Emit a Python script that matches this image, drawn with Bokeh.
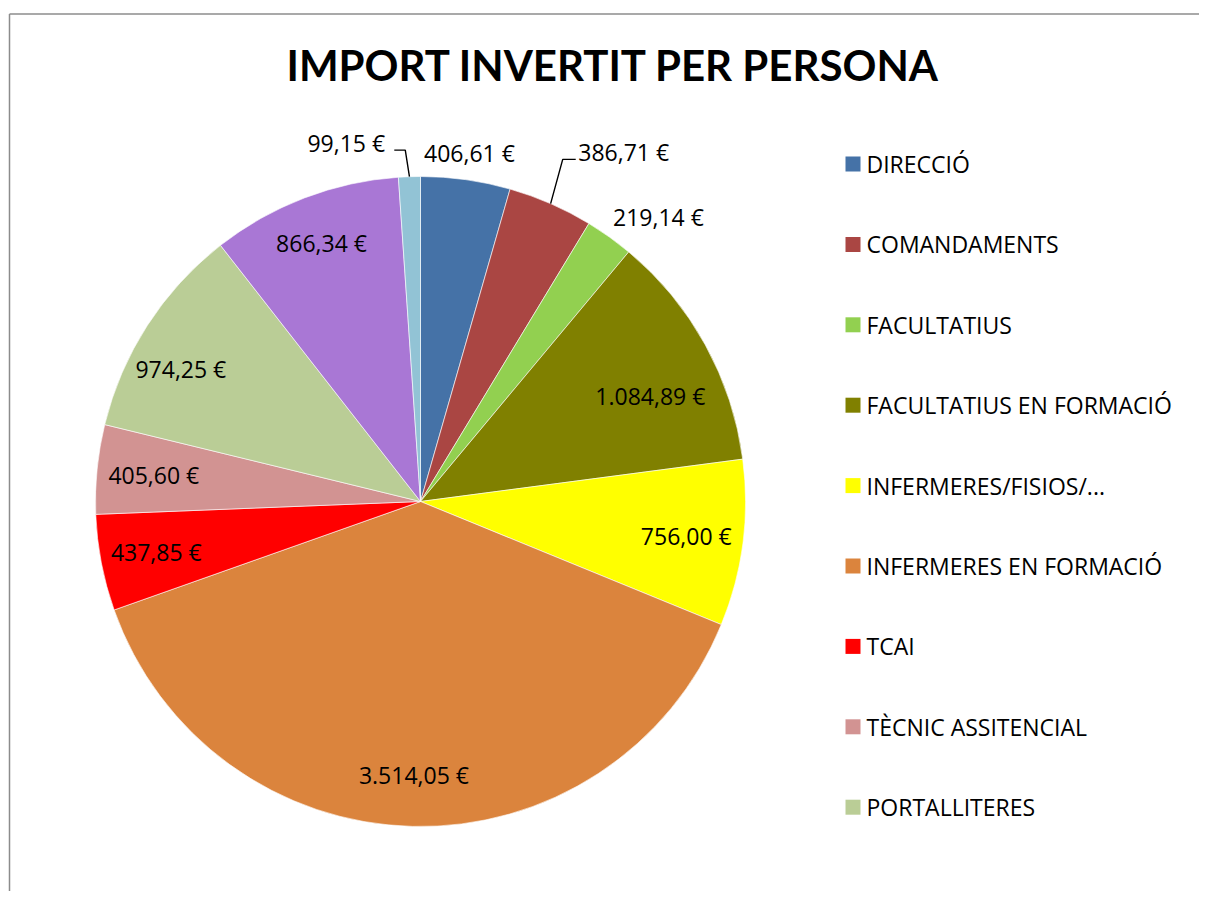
import math
import numpy as np
from bokeh.plotting import figure
from bokeh.models import Range1d
from bokeh.core.properties import value
from bokeh.embed import file_html
from bokeh.resources import INLINE

# ---------------- data ----------------
title = "IMPORT INVERTIT PER PERSONA"
categories = ["DIRECCIÓ", "COMANDAMENTS", "FACULTATIUS", "FACULTATIUS EN FORMACIÓ",
              "INFERMERES/FISIOS/...", "INFERMERES EN FORMACIÓ", "TCAI",
              "TÈCNIC ASSITENCIAL", "PORTALLITERES", "", ""]
values = [406.61, 386.71, 219.14, 1084.89, 756.00, 3514.05, 437.85, 405.60, 974.25, 866.34, 99.15]
colors = ["#4572A7", "#AA4643", "#92D050", "#808000", "#FFFF00", "#DB843D", "#FF0000",
          "#D29392", "#BACD96", "#A977D5", "#92C3D5"]
legend_count = 9  # legend is cut off after the 9th entry in the reference


def fmt(v):
    s = f"{v:,.2f}"
    s = s.replace(",", "X").replace(".", ",").replace("X", ".")
    return s + " €"


labels = [fmt(v) for v in values]

# ---------------- layout ----------------
W, H = 1199, 891
def px(x):
    return x
def py(y):
    return H - y

CX, CY, R = px(420), py(501), 325
FONT = "Open Sans"

p = figure(width=W, height=H, output_backend="svg", toolbar_location=None,
           x_range=Range1d(0, W), y_range=Range1d(0, H), min_border=0)
p.axis.visible = False
p.grid.visible = False
p.outline_line_color = None
p.background_fill_color = "white"
p.border_fill_color = "white"

# frame (partially visible chart border)
p.segment(x0=[px(9), px(9)], y0=[py(13.5), py(13.5)], x1=[px(9), W], y1=[0, py(13.5)],
          line_color="#8C8C8C", line_width=1.5)

vals = np.array(values)
frac = vals / vals.sum()
cum_end = np.cumsum(frac)
cum_start = cum_end - frac
start_angle = np.pi / 2 - 2 * np.pi * cum_end
end_angle = np.pi / 2 - 2 * np.pi * cum_start
mid = 2 * np.pi * (cum_start + cum_end) / 2  # clockwise from top

p.wedge(x=CX, y=CY, radius=R, start_angle=start_angle, end_angle=end_angle,
        fill_color=colors, line_color="white", line_width=0.6)

# label placement (polar: radius, clockwise-degrees from top)
label_r = [352, 404, 371, 253, 268, 274, 269, 268, 274, 277, 366]
label_deg_override = {1: 30.2, 2: 39.9, 3: 65.3, 8: 299.0, 10: 348.3}
lx, ly = [], []
for i in range(len(values)):
    a = math.radians(label_deg_override[i]) if i in label_deg_override else mid[i]
    lx.append(CX + label_r[i] * math.sin(a))
    ly.append(CY + label_r[i] * math.cos(a))

p.text(x=lx, y=ly, text=labels, text_align="center", text_baseline="middle",
       text_font=value(FONT), text_font_size="23px", text_color="black")

# leader lines for the two offset labels
for i, (dxe, dx_end) in {1: (-61, -48), 10: (59, 48)}.items():
    ax = CX + R * math.sin(mid[i])
    ay = CY + R * math.cos(mid[i])
    ex = lx[i] + dxe
    ey = ly[i] - 7
    p.line(x=[ax, ex, lx[i] + dx_end], y=[ay, ey, ey], line_color="black", line_width=1.4)

# title
p.text(x=[px(613)], y=[py(64)], text=[title], text_align="center", text_baseline="middle",
       text_font=value("Lato"), text_font_style="bold", text_font_size="42px", text_color="black")

# legend
idx = np.arange(legend_count)
centers = 163.5 + idx * 80.4
p.rect(x=px(852.5), y=[py(c) for c in centers], width=15, height=15,
       fill_color=colors[:legend_count], line_color=None)
p.text(x=px(866), y=[py(c) for c in centers], text=categories[:legend_count],
       text_align="left", text_baseline="middle",
       text_font=value(FONT), text_font_size="23px", text_color="black")

open("out.html", "w").write(file_html(p, INLINE))
